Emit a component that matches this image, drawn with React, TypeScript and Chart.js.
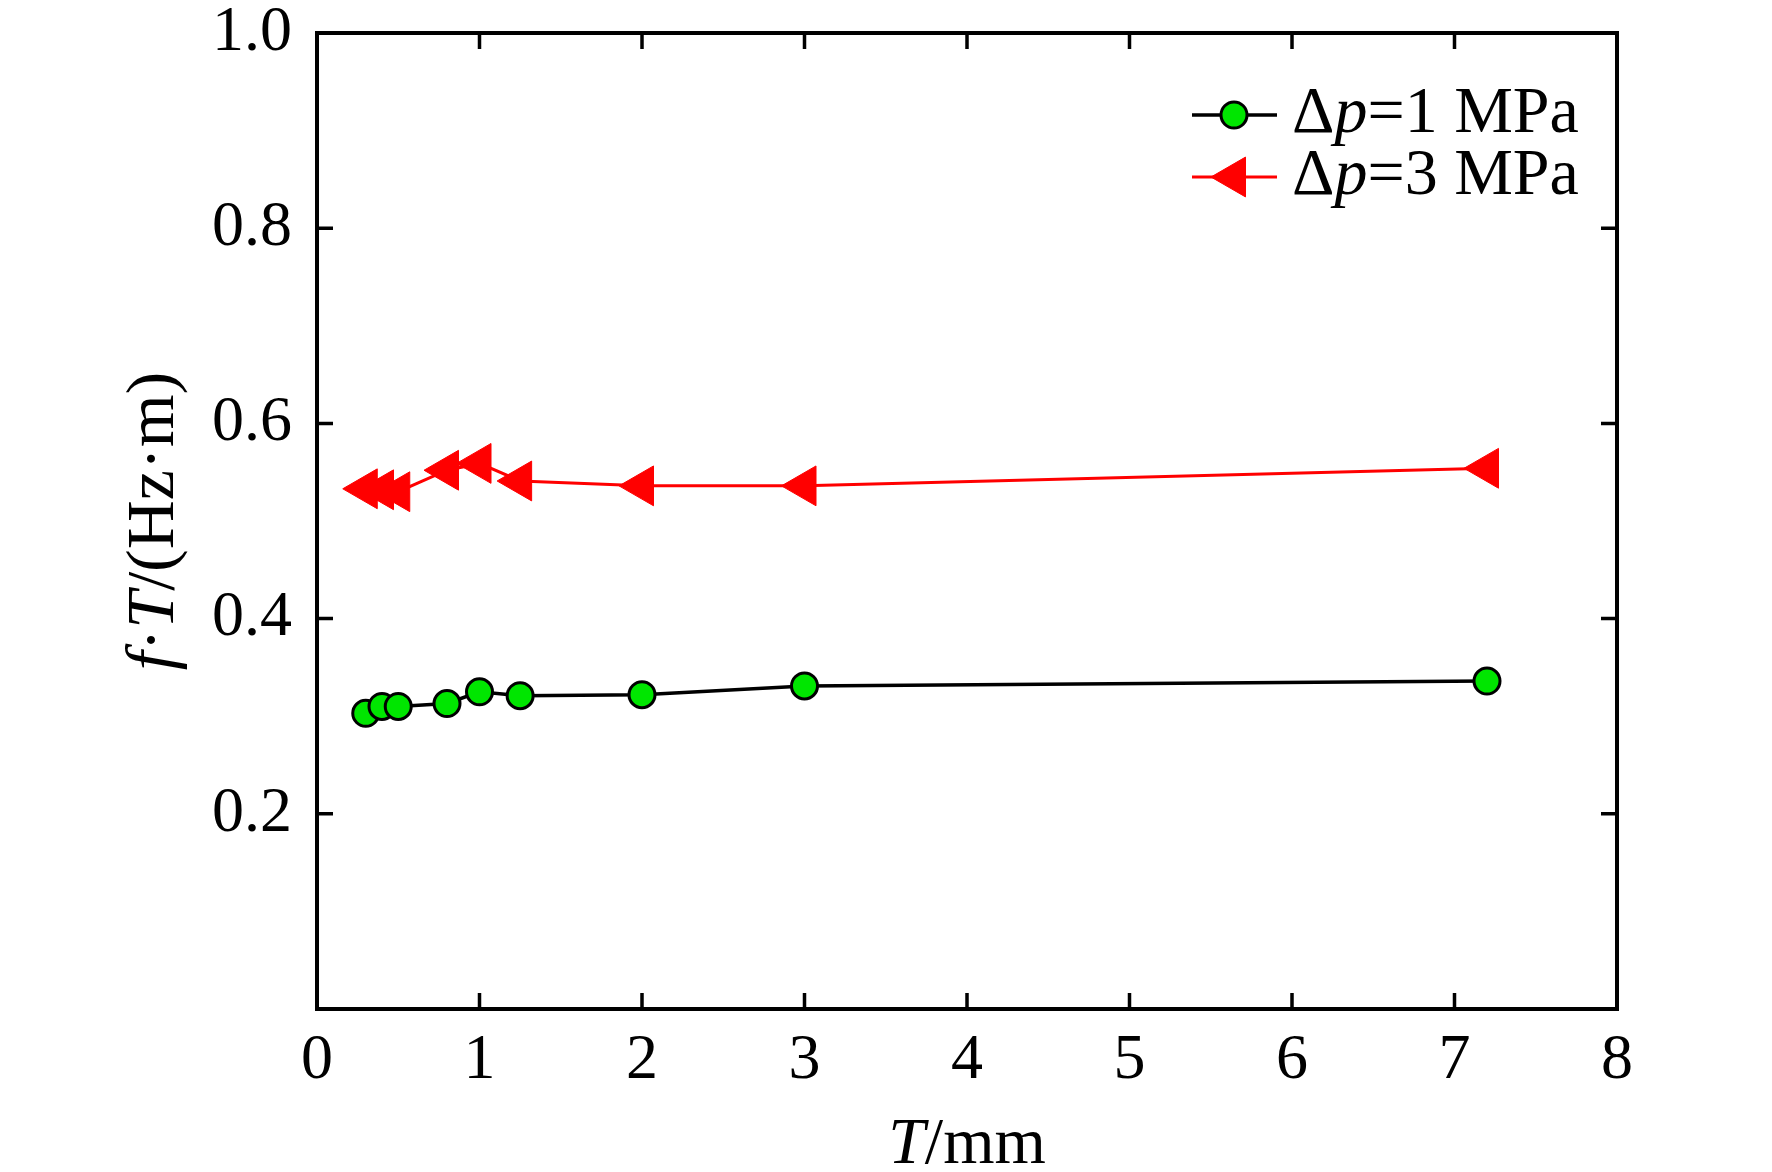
import React, { useEffect, useRef } from "react";
import { Chart, registerables } from "chart.js";
import { drawPoint } from "chart.js/helpers";

Chart.register(...registerables);

// plate thickness T (mm)
const T_MM = [0.3, 0.4, 0.5, 0.8, 1.0, 1.25, 2, 3, 7.2];
// f·T (Hz·m)
const FT_1MPA = [0.303, 0.31, 0.31, 0.313, 0.325, 0.321, 0.322, 0.331, 0.336];
const FT_3MPA = [0.533, 0.532, 0.53, 0.552, 0.559, 0.541, 0.536, 0.536, 0.554];

const X_TICKS = [0, 1, 2, 3, 4, 5, 6, 7, 8];
const Y_TICKS = [0, 0.2, 0.4, 0.6, 0.8, 1.0];

const SERIF = '"Liberation Serif", "Times New Roman", serif';

type Part = [string, boolean];

// draws text made of upright / italic pieces, centred on (x, y) or left-aligned
const drawRich = (
  ctx: CanvasRenderingContext2D,
  parts: Part[],
  size: number,
  x: number,
  y: number,
  align: "center" | "left"
) => {
  const fonts = parts.map(([, it]) => `${it ? "italic " : ""}${size}px ${SERIF}`);
  const widths = parts.map(([s], i) => {
    ctx.font = fonts[i];
    return ctx.measureText(s).width;
  });
  const total = widths.reduce((a, b) => a + b, 0);
  let cur = align === "center" ? x - total / 2 : x;
  ctx.textBaseline = "middle";
  ctx.textAlign = "left";
  parts.forEach(([s], i) => {
    ctx.font = fonts[i];
    ctx.fillText(s, cur, y);
    cur += widths[i];
  });
};

const framePlugin = {
  id: "frame",
  afterDraw(chart: any) {
    const { ctx, chartArea: a } = chart;
    const x = chart.scales.x;
    const y = chart.scales.y;
    ctx.save();
    ctx.strokeStyle = "#000";
    ctx.lineWidth = 4;
    ctx.strokeRect(a.left, a.top, a.right - a.left, a.bottom - a.top);

    // inward ticks on all four sides
    ctx.lineWidth = 3.5;
    ctx.beginPath();
    X_TICKS.forEach((v) => {
      if (v === x.min || v === x.max) return;
      const px = x.getPixelForValue(v);
      ctx.moveTo(px, a.bottom);
      ctx.lineTo(px, a.bottom - 16);
      ctx.moveTo(px, a.top);
      ctx.lineTo(px, a.top + 16);
    });
    Y_TICKS.forEach((v) => {
      if (v === y.min || v === y.max) return;
      const py = y.getPixelForValue(v);
      ctx.moveTo(a.left, py);
      ctx.lineTo(a.left + 16, py);
      ctx.moveTo(a.right, py);
      ctx.lineTo(a.right - 16, py);
    });
    ctx.stroke();

    ctx.fillStyle = "#000";
    // axis titles
    drawRich(ctx, [["T", true], ["/mm", false]], 66, (a.left + a.right) / 2, 1146, "center");
    ctx.save();
    ctx.translate(155, (a.top + a.bottom) / 2);
    ctx.rotate(-Math.PI / 2);
    drawRich(
      ctx,
      [["f", true], ["·", false], ["T", true], ["/(Hz·m)", false]],
      68,
      0,
      0,
      "center"
    );
    ctx.restore();

    // legend
    chart.data.datasets.forEach((ds: any, i: number) => {
      const ly = 115 + i * 62;
      ctx.strokeStyle = ds.borderColor;
      ctx.lineWidth = ds.borderWidth;
      ctx.beginPath();
      ctx.moveTo(1192, ly);
      ctx.lineTo(1277, ly);
      ctx.stroke();
      ctx.fillStyle = ds.pointBackgroundColor;
      ctx.strokeStyle = ds.pointBorderColor;
      ctx.lineWidth = ds.pointBorderWidth;
      drawPoint(
        ctx,
        {
          pointStyle: ds.pointStyle,
          rotation: ds.pointRotation,
          radius: ds.pointRadius,
          borderWidth: ds.pointBorderWidth,
        },
        1234,
        ly
      );
      ctx.fillStyle = "#000";
      drawRich(ctx, ds.richLabel, 66, 1292, ly, "left");
    });
    ctx.restore();
  },
};

export default function App() {
  const canvasRef = useRef<HTMLCanvasElement>(null);

  useEffect(() => {
    document.body.style.margin = "0";
    if (!canvasRef.current) return;

    const chart = new Chart(canvasRef.current, {
      type: "line",
      data: {
        datasets: [
          {
            label: "Δp=1 MPa",
            richLabel: [["Δ", false], ["p", true], ["=1 MPa", false]],
            data: T_MM.map((t, i) => ({ x: t, y: FT_1MPA[i] })),
            borderColor: "#000",
            borderWidth: 3.5,
            pointStyle: "circle",
            pointRotation: 0,
            pointRadius: 13,
            pointBackgroundColor: "#00e600",
            pointBorderColor: "#000",
            pointBorderWidth: 3,
          },
          {
            label: "Δp=3 MPa",
            richLabel: [["Δ", false], ["p", true], ["=3 MPa", false]],
            data: T_MM.map((t, i) => ({ x: t, y: FT_3MPA[i] })),
            borderColor: "#ff0000",
            borderWidth: 3,
            pointStyle: "triangle",
            pointRotation: -90,
            pointRadius: 23,
            pointBackgroundColor: "#ff0000",
            pointBorderColor: "#ff0000",
            pointBorderWidth: 1,
          },
        ] as any,
      },
      options: {
        animation: false,
        responsive: true,
        maintainAspectRatio: false,
        layout: { padding: { top: 33, right: 155, left: 0, bottom: 0 } },
        plugins: {
          legend: { display: false },
          tooltip: { enabled: false },
        },
        scales: {
          x: {
            type: "linear",
            min: 0,
            max: 8,
            afterBuildTicks: (s: any) => {
              s.ticks = X_TICKS.map((v) => ({ value: v }));
            },
            afterFit: (s: any) => {
              s.height = 163;
              s.paddingLeft = 0;
              s.paddingRight = 0;
            },
            ticks: {
              color: "#000",
              font: { family: SERIF, size: 64 },
              padding: 14,
              maxRotation: 0,
            },
            grid: { display: false, drawTicks: false },
            border: { display: false },
          },
          y: {
            min: 0,
            max: 1,
            afterBuildTicks: (s: any) => {
              s.ticks = Y_TICKS.map((v) => ({ value: v }));
            },
            afterFit: (s: any) => {
              s.width = 317;
              s.paddingTop = 0;
              s.paddingBottom = 0;
            },
            ticks: {
              color: "#000",
              font: { family: SERIF, size: 64 },
              padding: 25,
              callback: (v: any) => (v === 0 ? "" : Number(v).toFixed(1)),
            },
            grid: { display: false, drawTicks: false },
            border: { display: false },
          },
        },
      },
      plugins: [framePlugin],
    });

    return () => chart.destroy();
  }, []);

  return (
    <div style={{ position: "relative", width: "1772px", height: "1172px", background: "#fff" }}>
      <canvas ref={canvasRef} />
    </div>
  );
}
